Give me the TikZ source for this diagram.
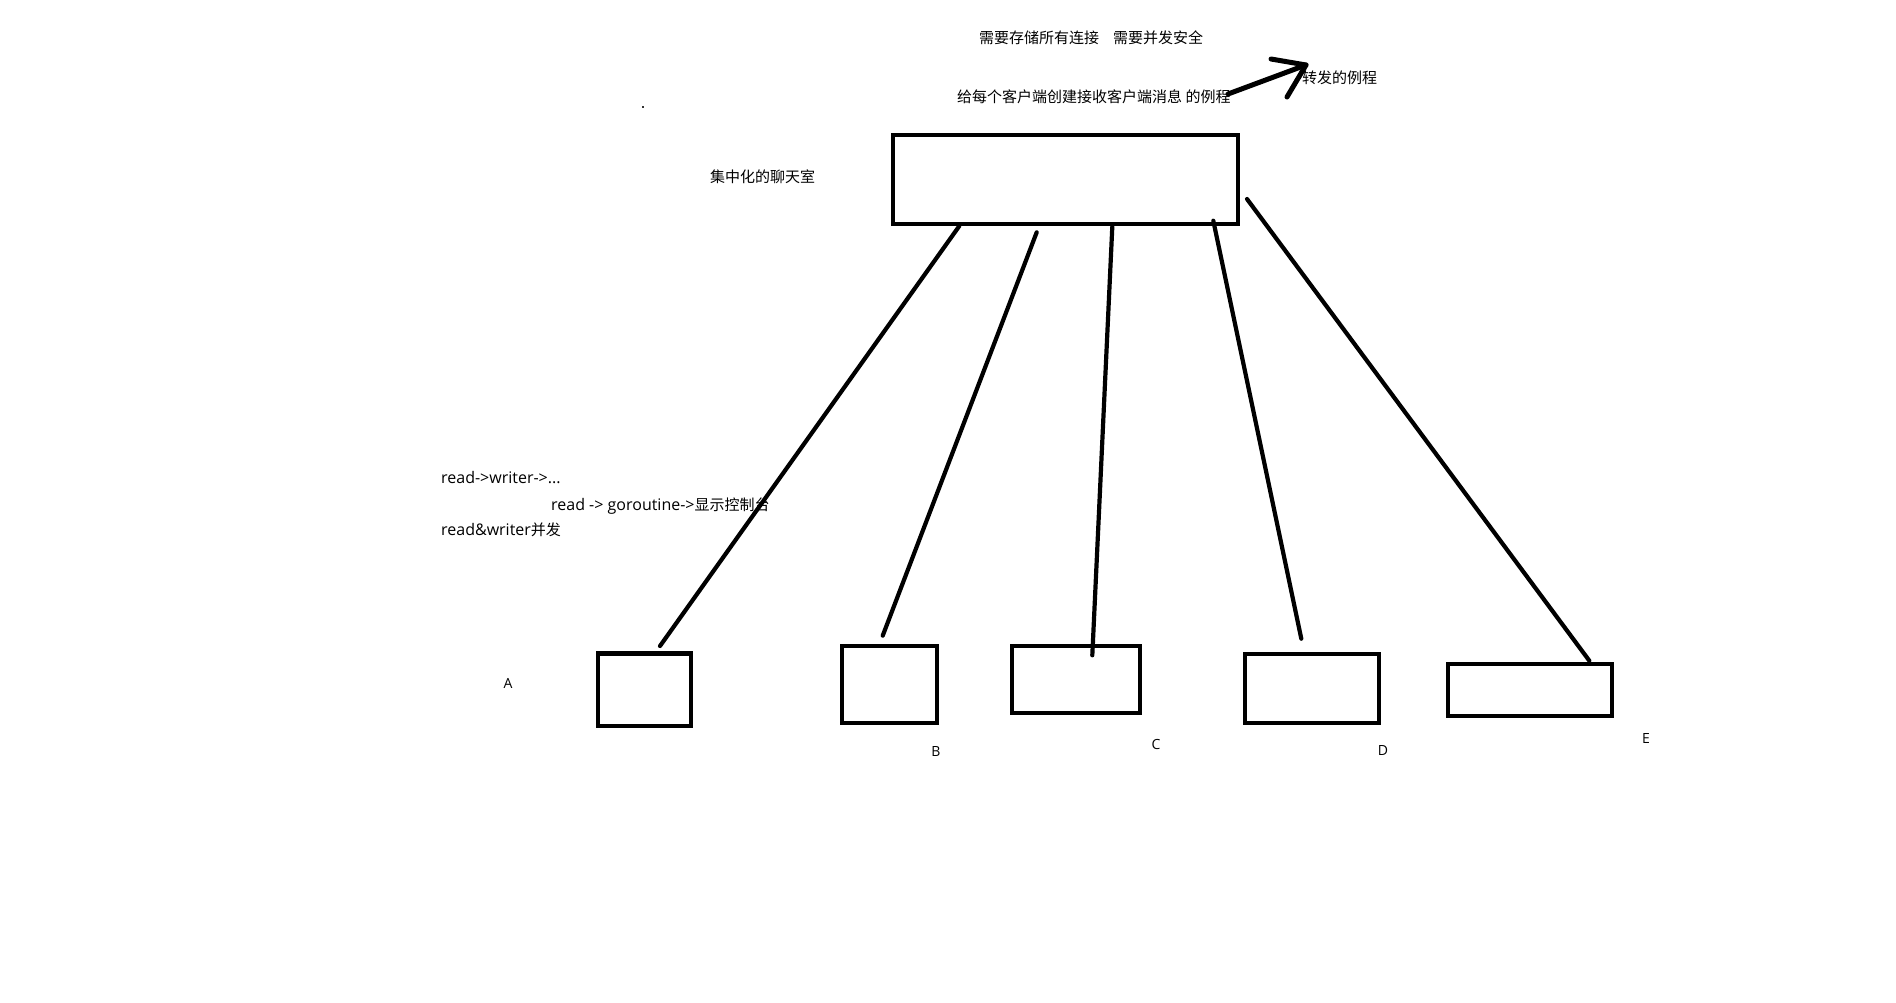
\documentclass[tikz,border=0pt]{standalone}
\usepackage{fontspec}
\setmainfont{Open Sans}
\newfontfamily\cjk{Noto Sans CJK SC}[Scale=0.9375]
\begin{document}
\begin{tikzpicture}[x=1pt,y=-1pt,
  box/.style={draw=black,line width=4.3pt,rectangle,inner sep=0pt,outer sep=0pt},
  link/.style={draw=black,line width=4.2pt,line cap=round},
  pen/.style={draw=black,line width=5pt,line cap=round,line join=round},
  note/.style={anchor=west,inner sep=0pt,font=\fontsize{16}{19}\selectfont},
  tag/.style={inner sep=0pt,font=\fontsize{14}{17}\selectfont}]
\useasboundingbox[fill=white] (0,0) rectangle (1896,1002);

% central chat room and the five clients
\node[box,minimum width=345pt,minimum height=89pt] (hub) at (1065.5,179.5) {};
\node[box,minimum width=93pt,minimum height=72.7pt] (ca) at (644.2,689.7) {};
\node[box,minimum width=95pt,minimum height=77pt] (cb) at (889.2,684.8) {};
\node[box,minimum width=128pt,minimum height=67.6pt] (cc) at (1076.3,679.5) {};
\node[box,minimum width=134.3pt,minimum height=69pt] (cd) at (1311.9,688.8) {};
\node[box,minimum width=164pt,minimum height=52pt] (ce) at (1530.3,690.3) {};

% line ends
\coordinate (h1) at (959.3,226);
\coordinate (h2) at (1036.7,232.3);
\coordinate (h3) at (1112.3,226.7);
\coordinate (h4) at (1213.3,220.7);
\coordinate (h5) at (1247,199);
\coordinate (a1) at (660,646);
\coordinate (b1) at (882.7,635.7);
\coordinate (c1) at (1092.3,655.3);
\coordinate (d1) at (1301.3,638.7);
\coordinate (e1) at (1589.3,660.7);

\draw[link] (h1) -- (a1);
\draw[link] (h2) -- (b1);
\draw[link] (h3) -- (c1);
\draw[link] (h4) -- (d1);
\draw[link] (h5) -- (e1);

% client labels
\node[tag] (la) at (508,683) {A};
\node[tag] (lb) at (936,751) {B};
\node[tag] (lc) at (1156,744) {C};
\node[tag] (ld) at (1383,750) {D};
\node[tag] (le) at (1646,738) {E};

% notes
\node[note] (n1) at (979,38) {\cjk 需要存储所有连接};
\node[note] (n2) at (1113,38) {\cjk 需要并发安全};
\node[note] (n3) at (957,97) {\cjk 给每个客户端创建接收客户端消息 的例程};
\node[note] (n4) at (1302,78) {\cjk 转发的例程};
\node[note] (n5) at (710,177) {\cjk 集中化的聊天室};
\node[note] (n6) at (441,478) {read->writer->...};
\node[note] (n7) at (551,506) {read -> goroutine->{\cjk 显示控制台}};
\node[note] (n8) at (441,530) {read\&writer{\cjk 并发}};

% hand-drawn arrow towards the forwarding routine
\coordinate (s0) at (1228,94);
\coordinate (tip) at (1306,65);
\coordinate (w1) at (1271,59);
\coordinate (w2) at (1287,97);
\draw[pen] (s0) -- (tip);
\draw[pen] (w1) -- (tip) -- (w2);

% stray dot
\fill[black!80] (641.7,105.7) rectangle (643.7,107.7);
\end{tikzpicture}
\end{document}
